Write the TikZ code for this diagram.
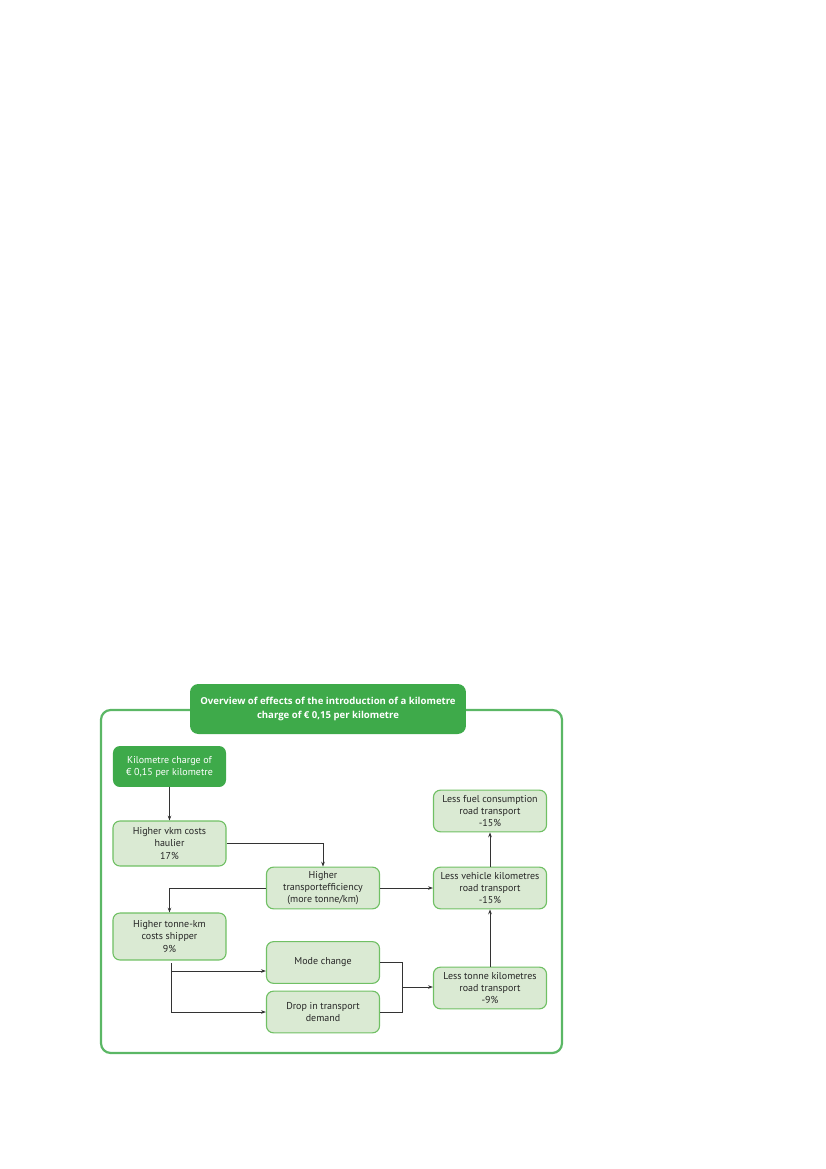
\documentclass[tikz,border=0pt]{standalone}
\usepackage{fontspec}
\setmainfont{PT Sans}
\newfontfamily\titlefont{Open Sans}
\usetikzlibrary{positioning,arrows.meta}

\definecolor{darkgreen}{RGB}{62,170,74}
\definecolor{palegreen}{RGB}{218,234,211}
\definecolor{edgegreen}{RGB}{112,192,100}

\begin{document}
\begin{tikzpicture}[x=0.72pt, y=-0.72pt,
    effect/.style={draw=edgegreen, fill=palegreen, line width=0.8pt, rounded corners=5pt,
        minimum width=81.4pt, minimum height=30pt, align=center, inner sep=1pt,
        font=\fontsize{7.2}{8.7}\selectfont, text=black!85},
    cause/.style={fill=darkgreen, rounded corners=5pt, minimum width=81.4pt, minimum height=29.5pt,
        align=center, inner sep=1pt, font=\fontsize{7.2}{8.7}\selectfont, text=white},
    link/.style={draw=black!80, line width=0.6pt, -{Stealth[length=3.5pt,width=2.6pt]}},
    plain/.style={draw=black!80, line width=0.6pt}]

    \useasboundingbox (0,0) rectangle (826,1169);

    \draw[darkgreen!85!white, line width=1.6pt, rounded corners=7pt] (101,710) rectangle (562,1053);

    \node[fill=darkgreen, rounded corners=6pt, minimum width=198.7pt, minimum height=36pt,
        align=center, text=white, font=\titlefont\bfseries\fontsize{6.9}{9.6}\selectfont]
        (title) at (328,709) {Overview of effects of the introduction of a kilometre\\charge of € 0,15 per kilometre};

    \node[cause] (charge) at (169.5,766.5) {Kilometre charge of\\€ 0,15 per kilometre};
    \node[effect, minimum height=32.4pt] (vkm) at (169.5,843.5) {Higher vkm costs\\haulier\\17\%};
    \node[effect] (eff) at (323,888) {Higher\\transportefficiency\\(more tonne/km)};
    \node[effect, minimum height=33.8pt] (tonkm) at (169.5,936.5) {Higher tonne-km\\costs shipper\\9\%};
    \node[effect] (mode) at (323,962.5) {Mode change};
    \node[effect] (drop) at (323,1012) {Drop in transport\\demand};
    \node[effect] (fuel) at (490,811) {Less fuel consumption\\road transport\\-15\%};
    \node[effect] (veh) at (490,888) {Less vehicle kilometres\\road transport\\-15\%};
    \node[effect] (lesston) at (490,988) {Less tonne kilometres\\road transport\\-9\%};

    \draw[link] (charge) -- (vkm);
    \draw[link] (vkm.east) -| (eff.north);
    \draw[link] (eff.west) -| (tonkm.north);
    \draw[link] (eff) -- (veh);
    \draw[link] (veh) -- (fuel);
    \draw[link] (lesston) -- (veh);

    \coordinate (start) at (171,963);
    \coordinate (fork) at (171,971);
    \coordinate (join) at (402,987);
    \draw[link] (start) |- (drop.west);
    \draw[link] (fork) -- (fork -| mode.west);
    \draw[plain] (mode.east) -- (join |- mode.east) |- (drop.east);
    \draw[link] (join) -- (join -| lesston.west);

\end{tikzpicture}
\end{document}
